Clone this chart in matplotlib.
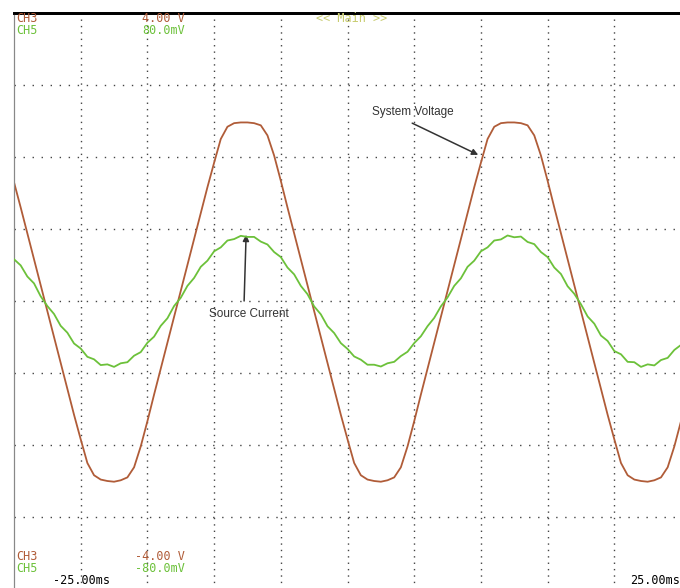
import matplotlib
matplotlib.use("Agg")
import matplotlib.pyplot as plt
import numpy as np

# time base: -25 ms .. 25 ms, one sample every 0.5 ms
t_ms = np.arange(101) * 0.5 - 25.0

# CH3 - system voltage (V), 1 V/div
ch3_volts = [
    1.65, 1.30, 0.94, 0.58, 0.22,
    -0.14, -0.50, -0.86, -1.22, -1.58, -1.92, -2.25, -2.42, -2.48, -2.50,
    -2.51, -2.49, -2.45, -2.31, -2.02, -1.67, -1.30, -0.94, -0.58, -0.22,
    0.14, 0.50, 0.86, 1.22, 1.58, 1.92, 2.25, 2.42, 2.47, 2.48,
    2.48, 2.47, 2.44, 2.30, 2.02, 1.67, 1.30, 0.94, 0.58, 0.22,
    -0.14, -0.50, -0.86, -1.22, -1.58, -1.92, -2.25, -2.42, -2.48, -2.50,
    -2.51, -2.49, -2.45, -2.31, -2.02, -1.67, -1.30, -0.94, -0.58, -0.22,
    0.14, 0.50, 0.86, 1.22, 1.58, 1.92, 2.25, 2.42, 2.47, 2.48,
    2.48, 2.47, 2.44, 2.30, 2.02, 1.67, 1.30, 0.94, 0.58, 0.22,
    -0.14, -0.50, -0.86, -1.22, -1.58, -1.92, -2.25, -2.42, -2.48, -2.50,
    -2.51, -2.49, -2.45, -2.31, -2.02, -1.67,
]

# CH5 - source current (mV), 20 mV/div
ch5_mv = [
    11.6, 9.9, 6.8, 4.9, 1.3,
    -1.4, -3.6, -6.9, -8.8, -11.8, -13.2, -15.5, -16.2, -17.8, -17.6,
    -18.3, -17.3, -17.0, -15.2, -14.2, -11.6, -9.9, -6.9, -4.8, -1.4,
    0.9, 4.2, 6.4, 9.5, 11.2, 13.8, 14.9, 16.8, 17.2, 18.1,
    17.8, 17.8, 16.5, 15.7, 13.6, 12.2, 9.3, 7.4, 4.2, 1.9,
    -1.5, -3.7, -7.0, -8.9, -11.7, -13.3, -15.4, -16.3, -17.7, -17.7,
    -18.2, -17.3, -16.9, -15.3, -14.1, -11.7, -9.8, -7.0, -4.7, -1.5,
    1.0, 4.2, 6.3, 9.5, 11.2, 13.8, 14.9, 16.8, 17.1, 18.2,
    17.7, 17.9, 16.4, 15.8, 13.6, 12.2, 9.3, 7.5, 4.1, 2.0,
    -0.9, -4.3, -6.3, -9.6, -11.1, -13.9, -14.8, -16.9, -17.0, -18.3,
    -17.6, -17.9, -16.4, -15.8, -13.6, -12.2,
]

x_ticks = np.arange(-25, 26, 5)
y_ticks = np.arange(-4, 5, 1)

brown = "#b05c38"
green = "#6cc13a"
mono = "DejaVu Sans Mono"

fig = plt.figure(figsize=(6.8, 5.88), dpi=100)
ax = fig.add_axes([14 / 680, -1 / 588, 667 / 680, 576 / 588])
ax2 = ax.twinx()

ax.set_xlim(-25, 25)
ax.set_ylim(-4, 4)
ax2.set_ylim(-80, 80)

# scope graticule
for xv in x_ticks[1:-1]:
    ax.axvline(xv, color="#444444", lw=1.0, ls=(0, (1, 3.6)), zorder=1)
for yv in y_ticks[1:-1]:
    ax.axhline(yv, color="#444444", lw=1.0, ls=(0, (1, 5.5)), zorder=1)

ax.plot(t_ms, ch3_volts, color=brown, lw=1.3, zorder=3)
ax2.plot(t_ms, ch5_mv, color=green, lw=1.3, zorder=3)

for a in (ax, ax2):
    a.set_xticks([])
    a.set_yticks([])
    for side in ("right", "bottom"):
        a.spines[side].set_visible(False)
    a.spines["left"].set_color("#888888")
    a.spines["left"].set_linewidth(0.8)
    a.spines["top"].set_color("black")
    a.spines["top"].set_linewidth(2)

# annotations
ax.text(4.9, 2.63, "System Voltage", fontsize=8.5, color="#333333",
        family="Liberation Sans", ha="center", va="center")
ax.annotate("", xy=(9.8, 2.03), xytext=(4.85, 2.47),
            arrowprops=dict(arrowstyle="-|>", color="#333333", lw=1.1,
                            mutation_scale=9, shrinkA=0, shrinkB=0))
ax.text(-7.4, -0.18, "Source Current", fontsize=8.5, color="#333333",
        family="Liberation Sans", ha="center", va="center")
ax.annotate("", xy=(-7.6, 0.92), xytext=(-7.75, 0.0),
            arrowprops=dict(arrowstyle="-|>", color="#333333", lw=1.1,
                            mutation_scale=9, shrinkA=0, shrinkB=0))

# on-screen readouts
fs = 8.5
fig.text(16 / 680, 1 - 18 / 588, "CH3", color=brown, family=mono, fontsize=fs, va="center")
fig.text(185 / 680, 1 - 18 / 588, "4.00 V", color=brown, family=mono, fontsize=fs, va="center", ha="right")
fig.text(16 / 680, 1 - 31 / 588, "CH5", color=green, family=mono, fontsize=fs, va="center")
fig.text(185 / 680, 1 - 31 / 588, "80.0mV", color=green, family=mono, fontsize=fs, va="center", ha="right")
fig.text(352 / 680, 1 - 18 / 588, "<< Main >>", color="#c8cc70", family=mono, fontsize=fs, va="center", ha="center")

fig.text(16 / 680, 1 - 556 / 588, "CH3", color=brown, family=mono, fontsize=fs, va="center")
fig.text(185 / 680, 1 - 556 / 588, "-4.00 V", color=brown, family=mono, fontsize=fs, va="center", ha="right")
fig.text(16 / 680, 1 - 569 / 588, "CH5", color=green, family=mono, fontsize=fs, va="center")
fig.text(185 / 680, 1 - 569 / 588, "-80.0mV", color=green, family=mono, fontsize=fs, va="center", ha="right")
fig.text(53 / 680, 1 - 581 / 588, "-25.00ms", color="black", family=mono, fontsize=fs, va="center")
fig.text(680 / 680, 1 - 581 / 588, "25.00ms", color="black", family=mono, fontsize=fs, va="center", ha="right")

fig.savefig("out.png", dpi=100)
